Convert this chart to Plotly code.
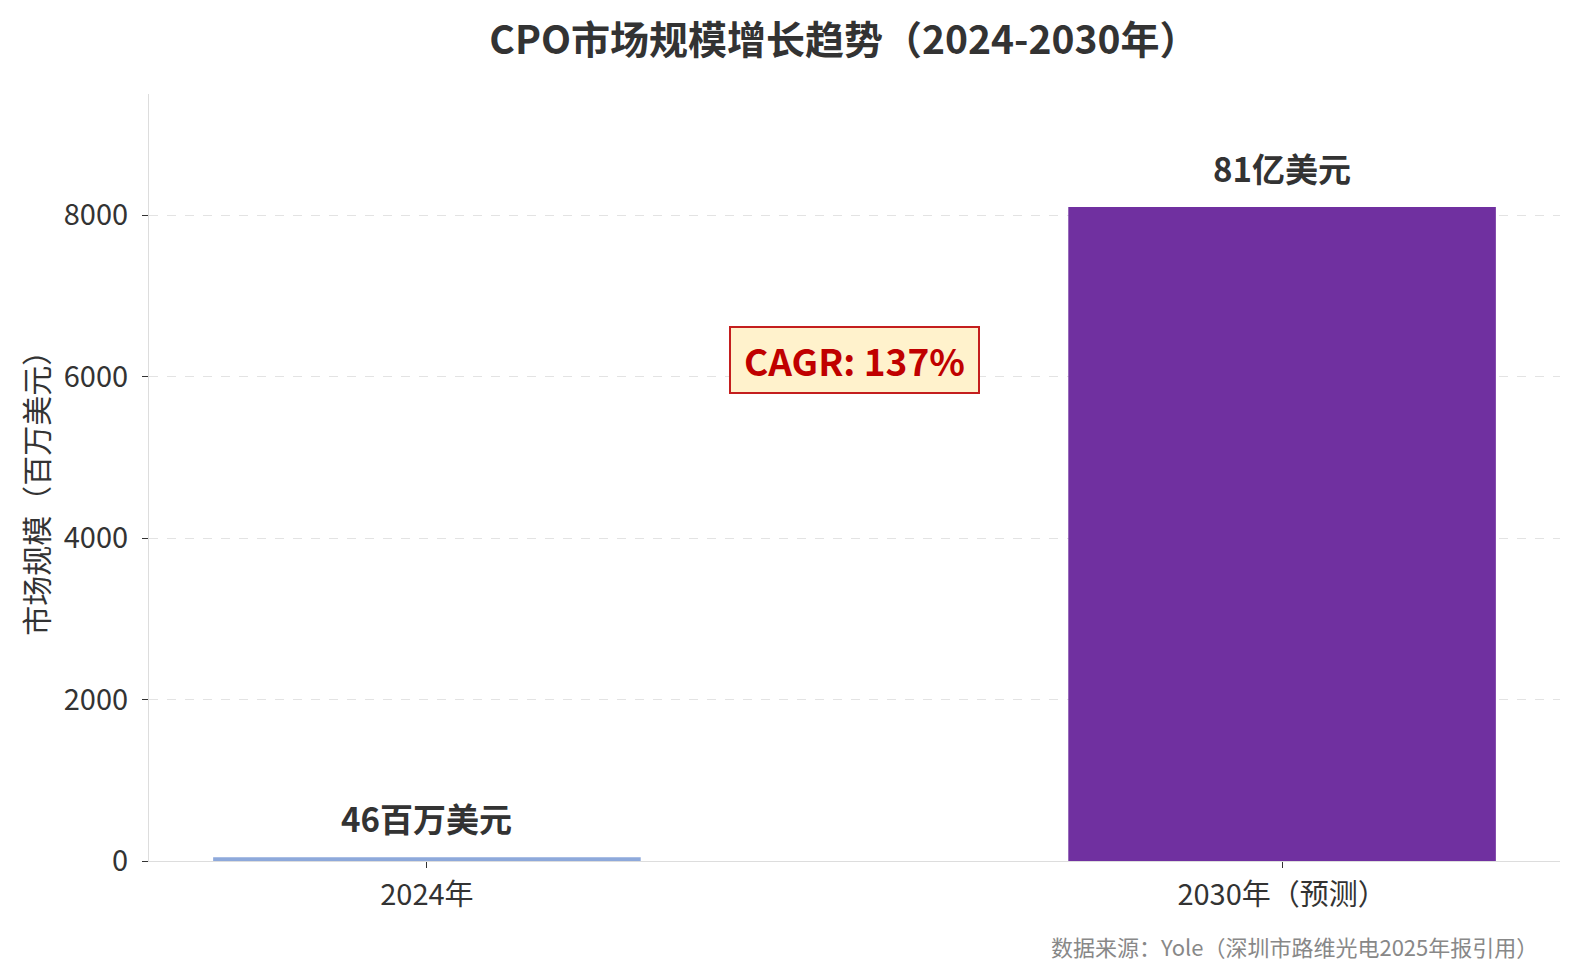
import plotly.graph_objects as go

# 数据
categories = ["2024年", "2030年（预测）"]
values = [46, 8100]
bar_labels = ["46百万美元", "81亿美元"]
bar_colors = ["#8EA9DB", "#7030A0"]
cagr_text = "CAGR: 137%"
cagr_y = 6200
source_text = "数据来源：Yole（深圳市路维光电2025年报引用）"
y_title = "市场规模（百万美元）"

font_family = "Noto Sans CJK SC, Noto Sans, sans-serif"

fig = go.Figure()
fig.add_trace(go.Bar(
    x=[0, 1],
    y=values,
    width=0.5,
    marker_color=bar_colors,
    marker_line_width=0,
    showlegend=False,
))

# 柱顶标签
for i, (v, lab) in enumerate(zip(values, bar_labels)):
    fig.add_annotation(x=i, y=v, text="<b>%s</b>" % lab,
                       showarrow=False, yanchor="bottom", yshift=13,
                       font=dict(size=33, color="#333333", family=font_family))

# CAGR 标注
fig.add_annotation(x=0.5, y=cagr_y, text="<b>%s</b>" % cagr_text,
                   showarrow=False, xanchor="center", yanchor="middle",
                   width=243, height=60,
                   font=dict(size=37, color="#C00000", family=font_family),
                   bgcolor="#FFF2CC", bordercolor="#C41E1E", borderwidth=2,
                   borderpad=2)

# y 轴标题
fig.add_annotation(x=-114 / 1401, y=0.5, xref="paper", yref="paper",
                   text=y_title, showarrow=False, textangle=-90,
                   xanchor="center", yanchor="middle", yshift=-8,
                   font=dict(size=30, color="#333333", family=font_family))

# 数据来源
fig.add_annotation(x=1.0 - 20 / 1401, y=-85 / 763, xref="paper", yref="paper",
                   text=source_text, showarrow=False,
                   xanchor="right", yanchor="middle",
                   font=dict(size=22, color="#888888", family=font_family))

fig.update_layout(
    title=dict(text="<b>CPO市场规模增长趋势（2024-2030年）</b>",
               xref="paper", x=0.4925, xanchor="center", y=0.967, yanchor="middle",
               font=dict(size=39, color="#333333", family=font_family)),
    width=1580, height=978,
    margin=dict(l=141, r=28, t=86, b=125),
    plot_bgcolor="white",
    paper_bgcolor="white",
    font=dict(family=font_family, color="#333333", size=24),
)

fig.update_xaxes(
    range=[-0.325, 1.325],
    tickmode="array", tickvals=[0, 1], ticktext=categories,
    ticks="outside", ticklen=6, tickwidth=1.2, tickcolor="#333333",
    showline=True, linecolor="#DDDDDD", linewidth=1.2,
    showgrid=False, zeroline=False, automargin=False,
    ticklabelstandoff=2,
    tickfont=dict(size=29, color="#333333"),
)
fig.update_yaxes(
    range=[0, 9500],
    tickvals=[0, 2000, 4000, 6000, 8000],
    ticks="outside", ticklen=6, tickwidth=1.2, tickcolor="#333333",
    showline=True, linecolor="#DDDDDD", linewidth=1.2,
    showgrid=True, gridcolor="#E3E3E3", griddash="dash", gridwidth=1,
    zeroline=False, automargin=False,
    ticklabelstandoff=8,
    tickfont=dict(size=29, color="#333333"),
)

fig.write_html("out.html")
